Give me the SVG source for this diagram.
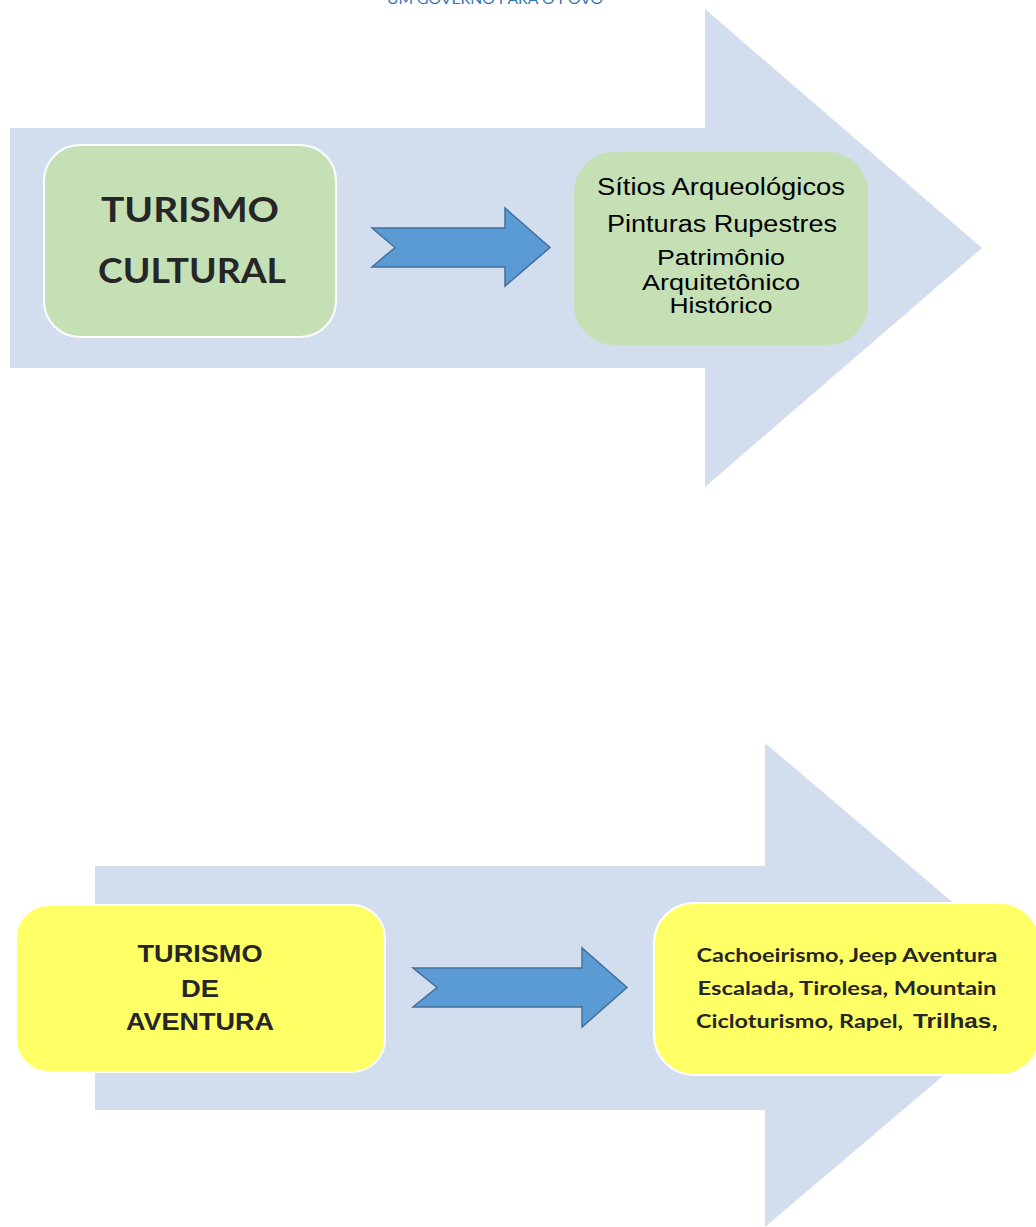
<svg xmlns="http://www.w3.org/2000/svg" width="1036" height="1227" viewBox="0 0 1036 1227">
<style>
.big{fill:#d2ddee}
.flow{fill:#5b9bd5;stroke:#41719c;stroke-width:1.5;stroke-linejoin:miter}
.green{fill:#c5e0b4}
.yellow{fill:#ffff66}
.wst{stroke:#ffffff;stroke-width:2}
.cal{font-family:Lato,"Open Sans",sans-serif;font-weight:bold;fill:#262626;text-anchor:middle}
.ar{font-family:"Liberation Sans",Arial,sans-serif;fill:#000;text-anchor:middle}
.arb{font-family:"Liberation Sans",Arial,sans-serif;font-weight:bold;fill:#262626;text-anchor:middle}
</style>
<rect width="1036" height="1227" fill="#ffffff"/>
<text x="495" y="4" font-family="Lato,'Open Sans',sans-serif" font-size="13" fill="#2e75b6" text-anchor="middle" textLength="216" lengthAdjust="spacingAndGlyphs">UM GOVERNO PARA O POVO</text>
<g id="background-arrows">
<polygon class="big" points="10,128 705,128 705,9 982,248 705,487 705,368 10,368"/>
<polygon class="big" points="95,866 765,866 765,743 1050,985 765,1227 765,1110 95,1110"/>
</g>
<g id="connectors">
<polygon class="flow" points="372,228 505,228 505,208 550,247.5 505,286 505,267 372,267 395,247.5"/>
<polygon class="flow" points="413,968 582,968 582,948 627,987.5 582,1027 582,1007 413,1007 437,987.5"/>
</g>
<g id="turismo-cultural">
<rect class="green wst" x="44" y="145" width="292" height="192" rx="36"/>
<text class="cal" x="190" y="222" font-size="34" textLength="178" lengthAdjust="spacingAndGlyphs">TURISMO</text>
<text class="cal" x="192" y="283" font-size="34" textLength="188" lengthAdjust="spacingAndGlyphs">CULTURAL</text>
</g>
<g id="cultural-items">
<rect class="green" x="574" y="152" width="294" height="193" rx="40"/>
<text class="ar" x="721" y="195" font-size="23" textLength="248" lengthAdjust="spacingAndGlyphs">Sítios Arqueológicos</text>
<text class="ar" x="722" y="232" font-size="23" textLength="230" lengthAdjust="spacingAndGlyphs">Pinturas Rupestres</text>
<text class="ar" x="721" y="265" font-size="22" textLength="128" lengthAdjust="spacingAndGlyphs">Patrimônio</text>
<text class="ar" x="721" y="290" font-size="22" textLength="158" lengthAdjust="spacingAndGlyphs">Arquitetônico</text>
<text class="ar" x="721" y="313" font-size="22" textLength="103" lengthAdjust="spacingAndGlyphs">Histórico</text>
</g>
<g id="turismo-aventura">
<rect class="yellow wst" x="16" y="905" width="369" height="167" rx="33"/>
<text class="arb" x="200" y="962" font-size="23" textLength="125" lengthAdjust="spacingAndGlyphs">TURISMO</text>
<text class="arb" x="200" y="997" font-size="23" textLength="38" lengthAdjust="spacingAndGlyphs">DE</text>
<text class="arb" x="200" y="1030" font-size="23" textLength="148" lengthAdjust="spacingAndGlyphs">AVENTURA</text>
</g>
<g id="aventura-items">
<rect class="yellow wst" x="654" y="903" width="386" height="172" rx="40"/>
<text class="cal" x="847" y="962" font-size="19" textLength="301" lengthAdjust="spacingAndGlyphs">Cachoeirismo, Jeep Aventura</text>
<text class="cal" x="847" y="995" font-size="19" textLength="299" lengthAdjust="spacingAndGlyphs">Escalada, Tirolesa, Mountain</text>
<text class="cal" x="696" y="1028" font-size="19" style="text-anchor:start" textLength="207" lengthAdjust="spacingAndGlyphs">Cicloturismo, Rapel,</text>
<text class="arb" x="913" y="1028" font-size="21" style="text-anchor:start" textLength="85" lengthAdjust="spacingAndGlyphs">Trilhas,</text>
</g>
</svg>
